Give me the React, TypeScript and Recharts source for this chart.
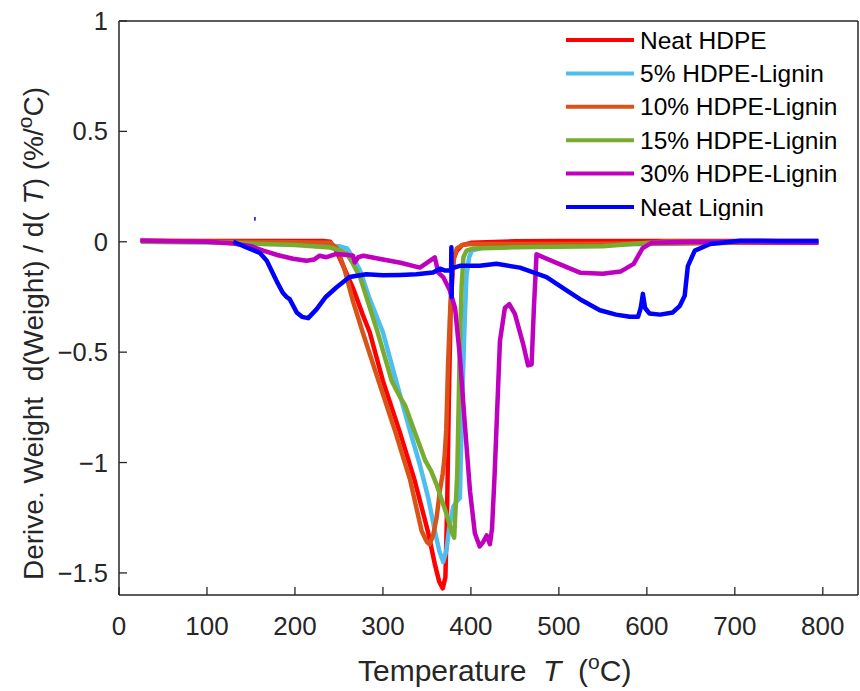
import React from "react";
import { LineChart, Line, XAxis, YAxis, Legend } from "recharts";

const FONT = '"Liberation Sans", Arial, Helvetica, sans-serif';
const AXIS = "#262626";

// temperature ticks and derivative weight ticks
const xTicks = [0, 100, 200, 300, 400, 500, 600, 700, 800];
const yTicks = [-1.5, -1, -0.5, 0, 0.5, 1];

// Neat HDPE
const hdpeT = [25, 100, 200, 232, 240, 247, 256, 266, 277, 285, 300, 319, 336, 351, 359, 364, 368, 371, 373, 375, 377, 380, 384, 390, 400, 450, 500, 600, 700, 795];
const hdpeV = [0.005, 0.003, 0.003, 0.004, 0, -0.04, -0.12, -0.21, -0.33, -0.41, -0.63, -0.86, -1.08, -1.31, -1.46, -1.54, -1.57, -1.52, -1.2, -0.7, -0.3, -0.08, -0.04, -0.015, -0.005, 0.002, 0.004, 0.004, 0.003, 0.003];

// 5% HDPE-Lignin
const l5T = [25, 100, 200, 250, 259, 266, 274, 285, 300, 315, 331, 342, 351.5, 359, 364, 368.5, 372, 376, 380, 384, 387.5, 389, 391, 393, 395, 398, 401, 420, 500, 600, 700, 795];
const l5V = [0, -0.002, -0.01, -0.02, -0.03, -0.07, -0.13, -0.26, -0.41, -0.63, -0.86, -1.01, -1.16, -1.31, -1.4, -1.45, -1.4, -1.28, -1.2, -1.175, -1.16, -0.9, -0.6, -0.35, -0.15, -0.07, -0.04, -0.02, -0.012, -0.01, -0.005, -0.003];

// 10% HDPE-Lignin
const l10T = [25, 100, 200, 240, 248, 256, 266, 277, 295, 314, 331, 344, 350, 353, 357, 361, 365, 368, 370, 372, 374, 376, 378, 381, 384, 390, 400, 500, 600, 700, 795];
const l10V = [0, 0, -0.002, -0.005, -0.03, -0.12, -0.27, -0.41, -0.63, -0.86, -1.08, -1.31, -1.36, -1.37, -1.33, -1.25, -1.12, -1.05, -0.98, -0.85, -0.56, -0.35, -0.18, -0.07, -0.03, -0.015, -0.01, -0.01, -0.008, -0.005, -0.003];

// 15% HDPE-Lignin
const l15T = [25, 100, 200, 240, 252, 259, 266, 274, 294, 310, 319, 325, 336, 348, 355, 361, 372, 378, 381, 384.5, 386, 387.5, 389.5, 391.5, 395, 403, 450, 500, 550, 590, 620, 700, 795];
const l15V = [0, -0.002, -0.015, -0.026, -0.04, -0.055, -0.1, -0.16, -0.41, -0.63, -0.7, -0.74, -0.86, -0.99, -1.04, -1.1, -1.23, -1.31, -1.34, -1.05, -0.75, -0.45, -0.2, -0.07, -0.04, -0.03, -0.025, -0.022, -0.02, -0.008, 0, 0, 0];

// 30% HDPE-Lignin
const l30T = [24, 60, 100, 130, 150, 164, 180, 198, 213, 222, 228, 236, 247, 260, 266, 268, 272, 278, 300, 320, 342, 352, 359, 363, 368.5, 376, 382, 387.5, 393, 399, 404.5, 410, 414, 418, 421.6, 424, 427, 430, 433, 438.6, 443.6, 450, 459.5, 465, 469, 471.6, 474.6, 478, 500, 524, 550, 570, 585, 595, 605, 650, 700, 795];
const l30V = [0.006, 0.002, 0, -0.008, -0.02, -0.04, -0.06, -0.077, -0.086, -0.08, -0.063, -0.07, -0.055, -0.06, -0.063, -0.094, -0.07, -0.063, -0.08, -0.095, -0.117, -0.09, -0.071, -0.14, -0.16, -0.22, -0.3, -0.52, -0.82, -1.13, -1.32, -1.38, -1.36, -1.33, -1.37, -1.3, -1.05, -0.75, -0.45, -0.3, -0.283, -0.327, -0.465, -0.56, -0.555, -0.3, -0.056, -0.063, -0.1, -0.14, -0.145, -0.135, -0.1, -0.03, -0.005, 0, 0, -0.005];

// Neat Lignin
const ligT = [130, 145, 160, 168, 179, 186, 190.5, 194, 202, 208, 215, 224.7, 235, 247, 262, 281, 300, 320, 338, 357, 364.8, 370, 377.5, 377.8, 378.1, 378.4, 387.5, 410, 429, 455.7, 486, 508.7, 524, 546.6, 565, 580.7, 590, 593, 595.5, 598, 603, 615, 629.5, 637.5, 643, 646.6, 654.5, 672, 706, 750, 795];
const ligV = [0, -0.026, -0.05, -0.086, -0.177, -0.23, -0.25, -0.26, -0.32, -0.34, -0.346, -0.305, -0.25, -0.207, -0.16, -0.147, -0.152, -0.15, -0.147, -0.139, -0.122, -0.13, -0.13, -0.025, -0.25, -0.12, -0.109, -0.109, -0.1, -0.117, -0.16, -0.22, -0.26, -0.31, -0.33, -0.34, -0.34, -0.3, -0.236, -0.3, -0.325, -0.33, -0.32, -0.29, -0.245, -0.11, -0.04, -0.01, 0.005, 0.004, 0.003];

// stray lignin sample mark
const ligMarkT = [154.5, 154.5];
const ligMarkV = [0.095, 0.112];

const zip = (t: number[], v: number[]) => t.map((x, i) => ({ t: x, v: v[i] }));

const series = [
  { name: "Neat HDPE", color: "#FF0000", data: zip(hdpeT, hdpeV) },
  { name: "5% HDPE-Lignin", color: "#4DBEEE", data: zip(l5T, l5V) },
  { name: "10% HDPE-Lignin", color: "#D95319", data: zip(l10T, l10V) },
  { name: "15% HDPE-Lignin", color: "#77AC30", data: zip(l15T, l15V) },
  { name: "30% HDPE-Lignin", color: "#BF00BF", data: zip(l30T, l30V) },
  { name: "Neat Lignin", color: "#0000FF", data: zip(ligT, ligV) },
];

const fmtY = (v: number) => (v < 0 ? "\u2212" + Math.abs(v) : String(v));

// plot box: left 119, top 21, right 858, bottom 595
const PLOT_LEFT = 119;
const PLOT_BOTTOM = 595;
const PLOT_TOP = 21;
const PLOT_RIGHT = 858;

const BottomTick = ({ x, payload }: any) => (
  <g>
    <line x1={x} x2={x} y1={PLOT_BOTTOM} y2={PLOT_BOTTOM - 8} stroke={AXIS} strokeWidth={1.3} />
    <text x={x} y={PLOT_BOTTOM + 40} textAnchor="middle" fontSize={26} fill={AXIS} fontFamily={FONT}>
      {payload.value}
    </text>
  </g>
);

const TopTick = ({ x }: any) => (
  <line x1={x} x2={x} y1={PLOT_TOP} y2={PLOT_TOP + 8} stroke={AXIS} strokeWidth={1.3} />
);

const LeftTick = ({ y, payload }: any) => (
  <g>
    <line x1={PLOT_LEFT} x2={PLOT_LEFT + 8} y1={y} y2={y} stroke={AXIS} strokeWidth={1.3} />
    <text x={PLOT_LEFT - 11} y={y + 9} textAnchor="end" fontSize={25.5} fill={AXIS} fontFamily={FONT}>
      {fmtY(payload.value)}
    </text>
  </g>
);

const RightTick = ({ y }: any) => (
  <line x1={PLOT_RIGHT} x2={PLOT_RIGHT - 8} y1={y} y2={y} stroke={AXIS} strokeWidth={1.3} />
);

const XTitle = () => (
  <text x={358} y={681} fontSize={30} fill={AXIS} fontFamily={FONT} style={{ whiteSpace: "pre" }}>
    {"Temperature  "}
    <tspan fontStyle="italic">T</tspan>
    {"  ("}
    <tspan dy={-12} fontSize={21}>o</tspan>
    <tspan dy={12}>C)</tspan>
  </text>
);

const YTitle = () => (
  <text
    transform="translate(43, 580) rotate(-90)"
    fontSize={28}
    fill={AXIS}
    fontFamily={FONT}
    style={{ whiteSpace: "pre" }}
  >
    {"Derive. Weight  d(Weight) / d( "}
    <tspan fontStyle="italic">T</tspan>
    {") (%/"}
    <tspan dy={-11} fontSize={21}>o</tspan>
    <tspan dy={11}>C)</tspan>
  </text>
);

const LegendBox = () => (
  <svg width={300} height={200}>
    {series.map((s, i) => {
      const cy = 20 + i * 33.4;
      return (
        <g key={s.name}>
          <line x1={6} x2={74} y1={cy} y2={cy} stroke={s.color} strokeWidth={4} />
          <text x={80} y={cy + 8.5} fontSize={24.5} fill="#000" fontFamily={FONT}>
            {s.name}
          </text>
        </g>
      );
    })}
  </svg>
);

export default function App() {
  return (
    <div style={{ position: "absolute", left: 0, top: 0, width: 860, height: 691, background: "#fff" }}>
      <LineChart width={860} height={691} margin={{ top: 1, right: 1, bottom: 36, left: 59 }}>
        <XAxis
          xAxisId="b"
          type="number"
          dataKey="t"
          domain={[0, 840]}
          ticks={xTicks}
          height={60}
          tickLine={false}
          tick={<BottomTick />}
          axisLine={{ stroke: AXIS, strokeWidth: 1.5 }}
          label={<XTitle />}
        />
        <XAxis
          xAxisId="t"
          orientation="top"
          type="number"
          dataKey="t"
          domain={[0, 840]}
          ticks={xTicks}
          height={20}
          tickLine={false}
          tick={<TopTick />}
          axisLine={{ stroke: AXIS, strokeWidth: 1.5 }}
        />
        <YAxis
          yAxisId="l"
          type="number"
          domain={[-1.6, 1]}
          ticks={yTicks}
          width={60}
          tickLine={false}
          tick={<LeftTick />}
          axisLine={{ stroke: AXIS, strokeWidth: 1.5 }}
          label={<YTitle />}
        />
        <YAxis
          yAxisId="r"
          orientation="right"
          type="number"
          domain={[-1.6, 1]}
          ticks={yTicks}
          width={1}
          tickLine={false}
          tick={<RightTick />}
          axisLine={{ stroke: AXIS, strokeWidth: 1.5 }}
        />
        {series.map((s) => (
          <Line
            key={s.name}
            xAxisId="b"
            yAxisId="l"
            data={s.data}
            dataKey="v"
            name={s.name}
            type="linear"
            stroke={s.color}
            strokeWidth={4.5}
            strokeLinejoin="round"
            dot={false}
            isAnimationActive={false}
          />
        ))}
        <Line
          xAxisId="b"
          yAxisId="l"
          data={zip(ligMarkT, ligMarkV)}
          dataKey="v"
          stroke="#0000FF"
          strokeWidth={1.5}
          dot={false}
          legendType="none"
          isAnimationActive={false}
        />
        <Legend
          layout="vertical"
          align="center"
          verticalAlign="middle"
          content={<LegendBox />}
          wrapperStyle={{ position: "absolute", left: 560, top: 20, width: 300, height: 200 }}
        />
      </LineChart>
    </div>
  );
}
